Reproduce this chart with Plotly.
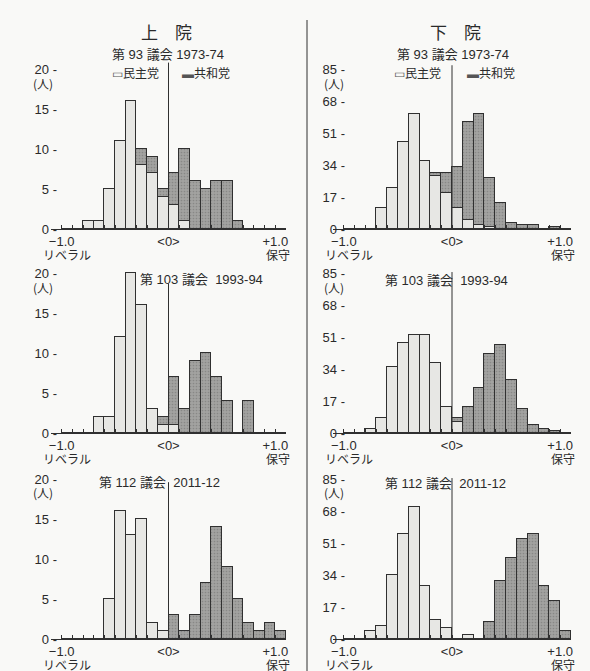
import plotly.graph_objects as go

# ---------------- data ----------------
BIN_LEFT = [-1.0, -0.9, -0.8, -0.7, -0.6, -0.5, -0.4, -0.3, -0.2, -0.1,
            0.0, 0.1, 0.2, 0.3, 0.4, 0.5, 0.6, 0.7, 0.8, 0.9, 1.0]

# Senate (上院)
SEN93_DEM  = [0, 0, 1, 1, 5, 11, 16, 8, 7, 4, 3, 1, 0, 0, 0, 0, 0, 0, 0, 0, 0]
SEN93_REP  = [0, 0, 0, 0, 0, 0, 0, 2, 2, 1, 4, 9, 6, 5, 6, 6, 1, 0, 0, 0, 0]
SEN103_DEM = [0, 0, 0, 2, 2, 12, 20, 16, 3, 1, 1, 0, 0, 0, 0, 0, 0, 0, 0, 0, 0]
SEN103_REP = [0, 0, 0, 0, 0, 0, 0, 0, 0, 1, 6, 3, 9, 10, 7, 4, 0, 4, 0, 0, 0]
SEN112_DEM = [0, 0, 0, 0, 5, 16, 13, 15, 2, 1, 0, 0, 0, 0, 0, 0, 0, 0, 0, 0, 0]
SEN112_REP = [0, 0, 0, 0, 0, 0, 0, 0, 0, 0, 3, 1, 3, 7, 14, 9, 5, 2, 1, 2, 1]

# House (下院)
HOU93_DEM  = [0, 0, 0, 11, 22, 46, 61, 36, 28, 19, 11, 5, 2, 1, 0, 0, 0, 0, 0, 0, 0]
HOU93_REP  = [0, 0, 0, 0, 0, 0, 0, 0, 2, 11, 22, 52, 59, 26, 14, 3, 2, 2, 0, 1, 0]
HOU103_DEM = [0, 0, 2, 8, 35, 48, 52, 52, 37, 14, 6, 0, 0, 0, 0, 0, 0, 0, 0, 0, 0]
HOU103_REP = [0, 0, 0, 0, 0, 0, 0, 0, 0, 0, 2, 14, 24, 42, 47, 28, 13, 4, 2, 1, 0]
HOU112_DEM = [0, 0, 4, 7, 34, 56, 70, 28, 10, 6, 0, 2, 0, 0, 0, 0, 0, 0, 0, 0, 0]
HOU112_REP = [0, 0, 0, 0, 0, 0, 0, 0, 0, 0, 0, 0, 0, 9, 31, 43, 53, 56, 28, 20, 4]

SENATE_TICKS = [0, 5, 10, 15, 20]
SENATE_TICK_TEXT = ["0 -", "5 -", "10 -", "15 -", "20 -"]
HOUSE_TICKS = [0, 17, 34, 51, 68, 85]
HOUSE_TICK_TEXT = ["0 -", "17 -", "34 -", "51 -", "68 -", "85 -"]
X_TICKS = [-1.0, -0.9, -0.8, -0.7, -0.6, -0.5, -0.4, -0.3, -0.2, -0.1,
           0.0, 0.1, 0.2, 0.3, 0.4, 0.5, 0.6, 0.7, 0.8, 0.9, 1.0]
X_LABELS = {-1.0: "\u22121.0", 0.0: "&lt;0&gt;", 1.0: "+1.0"}
X_END_LABELS = [(-1.0, "リベラル"), (1.0, "保守")]

SUBTITLES = ["第 93 議会 1973-74", "第 93 議会 1973-74",
             "第 103 議会  1993-94", "第 103 議会  1993-94",
             "第 112 議会  2011-12", "第 112 議会  2011-12"]

# ---------------- styling / layout ----------------
W, H = 590, 671
FONT = "Noto Sans CJK JP, Noto Sans, sans-serif"
MIX_FONT = "Liberation Sans, Noto Sans CJK JP, sans-serif"
INK = "#2a2a2a"
DEM_COLOR = "#e7e7e4"
REP_COLOR = "#a2a2a0"
BG = "#f9f9f7"

def px(p):
    return p / W

def py(p):
    return 1 - p / H

LEFT_X = [51, 286]
RIGHT_X = [333, 571]
ROWS = [(229, 61), (433, 265), (639, 471)]  # (zero pixel, top pixel)
SEN_RANGE = 21.0
HOU_RANGE = 89.25

panels = [
    (SEN93_DEM, SEN93_REP, "L", 0, 20.8),
    (HOU93_DEM, HOU93_REP, "R", 0, 87.0),
    (SEN103_DEM, SEN103_REP, "L", 1, 18.7),
    (HOU103_DEM, HOU103_REP, "R", 1, 85.5),
    (SEN112_DEM, SEN112_REP, "L", 2, 19.6),
    (HOU112_DEM, HOU112_REP, "R", 2, 85.5),
]

fig = go.Figure()
layout = dict(
    width=W, height=H, autosize=False,
    margin=dict(l=0, r=0, t=0, b=0, autoexpand=False),
    paper_bgcolor=BG, plot_bgcolor=BG,
    barmode="stack", bargap=0, showlegend=False,
    font=dict(family=FONT, size=12, color=INK),
)
shapes = []
annotations = []

for i, (dem, rep, side, row, zline_top) in enumerate(panels):
    n = i + 1
    xa = "x" if n == 1 else f"x{n}"
    ya = "y" if n == 1 else f"y{n}"
    xkey = "xaxis" if n == 1 else f"xaxis{n}"
    ykey = "yaxis" if n == 1 else f"yaxis{n}"
    senate = side == "L"
    xdom = LEFT_X if senate else RIGHT_X
    zero_px, top_px = ROWS[row]

    for vals, color, name in ((dem, DEM_COLOR, "民主党"), (rep, REP_COLOR, "共和党")):
        marker = dict(color=color, line=dict(color="#303030", width=1))
        if name == "共和党":
            marker["pattern"] = dict(shape=".", fgcolor="#6e6e6c", size=3,
                                     solidity=0.25, fillmode="overlay")
        fig.add_trace(go.Bar(x=BIN_LEFT, y=vals, width=0.1, offset=0,
                             marker=marker, name=name, xaxis=xa, yaxis=ya,
                             hoverinfo="skip"))

    layout[xkey] = dict(
        domain=[px(xdom[0]), px(xdom[1])], range=[-1.1, 1.1], anchor=ya,
        tickmode="array", tickvals=X_TICKS,
        ticktext=[X_LABELS.get(v, "") for v in X_TICKS],
        ticks="inside", ticklen=4, tickcolor="#303030", tickwidth=1,
        showline=True, linecolor="#303030", linewidth=1,
        showgrid=False, zeroline=False, fixedrange=True, automargin=False,
        tickfont=dict(size=13, color=INK, family=MIX_FONT),
    )
    yticks = SENATE_TICKS if senate else HOUSE_TICKS
    ytext = SENATE_TICK_TEXT if senate else HOUSE_TICK_TEXT
    layout[ykey] = dict(
        domain=[py(zero_px), py(top_px)],
        range=[0, SEN_RANGE if senate else HOU_RANGE],
        anchor="free", position=px(57 if senate else 345),
        tickmode="array", tickvals=yticks, ticktext=ytext,
        ticks="", showline=False, showgrid=False, zeroline=False,
        fixedrange=True, automargin=False,
        tickfont=dict(size=13, color=INK, family=MIX_FONT),
    )

    # zero reference line
    shapes.append(dict(type="line", xref=xa, yref=ya, x0=0, x1=0, y0=0,
                       y1=zline_top, line=dict(color="#303030", width=1)))
    # unit label
    annotations.append(dict(text="(人)", xref="paper", yref=ya,
                            x=px(43 if senate else 334), y=yticks[-1],
                            xanchor="center", yanchor="middle",
                            yshift=-14, showarrow=False,
                            font=dict(size=12, color=INK)))
    # end labels under the axis
    for xv, txt in X_END_LABELS:
        annotations.append(dict(text=txt, xref=xa, yref=ya, x=xv, y=0,
                                xanchor="center", yanchor="middle",
                                xshift=5 if xv < 0 else 3, yshift=-25,
                                showarrow=False, font=dict(size=12, color=INK)))

# divider between Senate and House
shapes.append(dict(type="line", xref="paper", yref="paper", x0=px(307), x1=px(307),
                   y0=py(20), y1=0, line=dict(color="#303030", width=1)))

# headers
annotations += [
    dict(text="上　院", x=px(166), y=py(32), xref="paper", yref="paper",
         xanchor="center", yanchor="middle",
         showarrow=False, font=dict(size=17, color=INK)),
    dict(text="下　院", x=px(455), y=py(32), xref="paper", yref="paper",
         xanchor="center", yanchor="middle",
         showarrow=False, font=dict(size=17, color=INK)),
]
sub_pos = [(168, 54, "center"), (453, 55, "center"),
           (138, 279, "left"), (446, 280, "center"),
           (159, 482, "center"), (445, 483, "center")]
for text, (x, y, al) in zip(SUBTITLES, sub_pos):
    annotations.append(dict(text=text, x=px(x), y=py(y), xref="paper", yref="paper",
                            xanchor=al, yanchor="middle", showarrow=False,
                            font=dict(size=13, color=INK, family=MIX_FONT)))
# legends (top row)
for xl, xr in ((110, 180), (392, 465)):
    annotations.append(dict(text="<span style='color:#555'>\u25ad</span>民主党",
                            x=px(xl), y=py(72), xref="paper", yref="paper",
                            xanchor="left", yanchor="middle", showarrow=False,
                            font=dict(size=12, color=INK)))
    annotations.append(dict(text="<span style='color:#555'>\u25ac</span>共和党",
                            x=px(xr), y=py(72), xref="paper", yref="paper",
                            xanchor="left", yanchor="middle", showarrow=False,
                            font=dict(size=12, color=INK)))

layout["shapes"] = shapes
layout["annotations"] = annotations
fig.update_layout(**layout)

fig.write_html("out.html",
               config={"displayModeBar": False},
               post_script="document.body.style.margin='0';"
                           "document.body.style.padding='0';")
